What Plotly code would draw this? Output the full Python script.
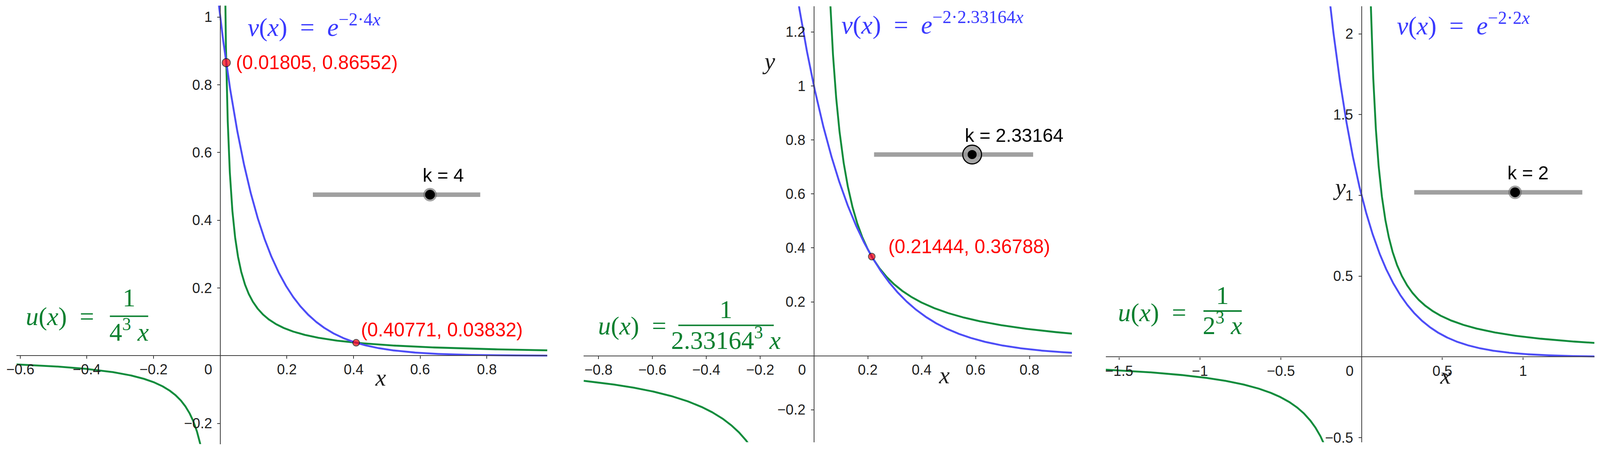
import numpy as np
import plotly.graph_objects as go

# ---------------- data ----------------
k_values = [4.0, 2.33164, 2.0]
k_texts = ["k = 4", "k = 2.33164", "k = 2"]
slider_min = -10.0
slider_max = 10.0

x_ticks_1 = [-0.6, -0.4, -0.2, 0.2, 0.4, 0.6, 0.8]
x_ticks_2 = [-0.8, -0.6, -0.4, -0.2, 0.2, 0.4, 0.6, 0.8]
x_ticks_3 = [-1.5, -1.0, -0.5, 0.5, 1.0]
y_ticks_1 = [-0.2, 0.2, 0.4, 0.6, 0.8, 1.0]
y_ticks_2 = [-0.2, 0.2, 0.4, 0.6, 0.8, 1.0, 1.2]
y_ticks_3 = [-0.5, 0.5, 1.0, 1.5, 2.0]

point_x_1 = [0.01805, 0.40771]
point_y_1 = [0.86552, 0.03832]
point_x_2 = [0.21444]
point_y_2 = [0.36788]
point_x_3 = []
point_y_3 = []

v_exponents = ["−2·4<i>x</i>", "−2·2.33164<i>x</i>", "−2·2<i>x</i>"]
u_denominators = ["4<sup>3</sup> <i>x</i>", "2.33164<sup>3</sup> <i>x</i>", "2<sup>3</sup> <i>x</i>"]

# ---------------- layout / style config ----------------
# the page is shown slightly magnified; sizes are given in screenshot pixels and converted
S = 1.04
OFF = 8
IMG_W, IMG_H = 4270, 1208
W = int(round(IMG_W / S - 2 * OFF))
H = int(round(IMG_H / S - 2 * OFF))


def px(v):
    return v / S


def fx(X):
    return (X / S - OFF) / W


def fy(Y):
    return 1 - (Y / S - OFF) / H


panels = [
    dict(px=(44, 1457), py=(15, 1182), xr=(-0.611, 0.981), yr=(-0.261, 1.034),
         xt=x_ticks_1, yt=y_ticks_1, px_pts=point_x_1, py_pts=point_y_1, pt_sizes=[22, 18],
         lab_shift=[(24, 0), (11, 34)],
         slider=dict(x0=0.278, x1=0.780, y=0.4756, selected=False),
         vpos=(0.080, 0.975), upos=(-0.585, 0.115), bar=(-0.331, -0.216, 0.1165),
         numy=0.171, deny=0.0755, xlab=(0.481, -0.064), ylab=None),
    dict(px=(1554, 2854), py=(17, 1177), xr=(-0.854, 0.957), yr=(-0.320, 1.295),
         xt=x_ticks_2, yt=y_ticks_2, px_pts=point_x_2, py_pts=point_y_2, pt_sizes=[18],
         lab_shift=[(42, 27)],
         slider=dict(x0=0.223, x1=0.813, y=0.746, selected=True),
         vpos=(0.099, 1.232), upos=(-0.804, 0.110), bar=(-0.503, -0.149, 0.113),
         numy=0.172, deny=0.065, xlab=(0.483, -0.072), ylab=(-0.167, 1.093)),
    dict(px=(2944, 4245), py=(17, 1177), xr=(-1.584, 1.442), yr=(-0.528, 2.170),
         xt=x_ticks_3, yt=y_ticks_3, px_pts=point_x_3, py_pts=point_y_3, pt_sizes=[],
         lab_shift=[],
         slider=dict(x0=0.326, x1=1.367, y=1.019, selected=False),
         vpos=(0.214, 2.060), upos=(-1.514, 0.274), bar=(-0.979, -0.742, 0.284),
         numy=0.381, deny=0.207, xlab=(0.519, -0.114), ylab=(-0.137, 1.053)),
]

GREEN_LINE = "#118C3C"
GREEN_TEXT = "#0B8030"
BLUE_LINE = "#4D4DF7"
BLUE_TEXT = "#3A3AFF"
AXIS_COL = "#3C3C3C"
TICK_TXT = "#1E1E1E"
SANS = "Liberation Sans, Arial, sans-serif"
SERIF = "Liberation Serif, Times New Roman, serif"
F_TICK = px(38)
F_RED = px(51)
F_K = px(50)
F_MATH = px(68)


def fmt(t):
    return f"{t:g}".replace("-", "\u2212")


fig = go.Figure()
annotations = []
shapes = []
layout_axes = {}

for i, (p, k) in enumerate(zip(panels, k_values)):
    n = "" if i == 0 else str(i + 1)
    xa, ya = "x" + n, "y" + n
    xd = (fx(p["px"][0]), fx(p["px"][1]))
    yd = (fy(p["py"][1]), fy(p["py"][0]))
    xmin, xmax = p["xr"]
    ymin, ymax = p["yr"]
    ypos0 = yd[0] + (0 - ymin) / (ymax - ymin) * (yd[1] - yd[0])
    xpos0 = xd[0] + (0 - xmin) / (xmax - xmin) * (xd[1] - xd[0])

    common = dict(showgrid=False, zeroline=False, showline=True, linecolor=AXIS_COL,
                  linewidth=px(2.2), ticks="outside", ticklen=px(7), tickwidth=px(2),
                  tickcolor=AXIS_COL, showticklabels=False, fixedrange=True)
    layout_axes["xaxis" + n] = dict(domain=xd, range=[xmin, xmax], anchor="free", position=ypos0,
                                    tickvals=p["xt"], **common)
    layout_axes["yaxis" + n] = dict(domain=yd, range=[ymin, ymax], anchor="free", position=xpos0,
                                    tickvals=p["yt"], **common)

    # tick labels placed next to the axes through the origin
    for t in p["xt"]:
        annotations.append(dict(x=t, y=0, xref=xa, yref=ya, showarrow=False, text=fmt(t),
                                xanchor="center", yanchor="middle", yshift=-px(37),
                                font=dict(family=SANS, size=F_TICK, color=TICK_TXT)))
    for t in p["yt"]:
        annotations.append(dict(x=0, y=t, xref=xa, yref=ya, showarrow=False, text=fmt(t),
                                xanchor="right", yanchor="middle", xshift=-px(20),
                                font=dict(family=SANS, size=F_TICK, color=TICK_TXT)))
    annotations.append(dict(x=0, y=0, xref=xa, yref=ya, showarrow=False, text="0",
                            xanchor="center", yanchor="middle", xshift=-px(32), yshift=-px(37),
                            font=dict(family=SANS, size=F_TICK, color=TICK_TXT)))

    # u(x) = 1/(k^3 x), both branches
    xp_start = 1.0 / (k ** 3 * ymax * 1.3)
    xpos = np.geomspace(xp_start, xmax, 700)
    xn_end = 1.0 / (k ** 3 * abs(ymin) * 1.3)
    xneg = -np.geomspace(abs(xmin), xn_end, 700)
    for xs in (xneg, xpos):
        fig.add_trace(go.Scatter(x=xs, y=1.0 / (k ** 3 * xs), mode="lines",
                                 line=dict(color=GREEN_LINE, width=px(5)), xaxis=xa, yaxis=ya,
                                 showlegend=False, hoverinfo="skip"))
    # v(x) = exp(-2 k x)
    xv = np.linspace(xmin, xmax, 1500)
    fig.add_trace(go.Scatter(x=xv, y=np.exp(-2 * k * xv), mode="lines",
                             line=dict(color=BLUE_LINE, width=px(5)), xaxis=xa, yaxis=ya,
                             showlegend=False, hoverinfo="skip"))

    # intersection points
    if p["px_pts"]:
        fig.add_trace(go.Scatter(x=p["px_pts"], y=p["py_pts"], mode="markers",
                                 marker=dict(color="#FF0000", size=[px(s) for s in p["pt_sizes"]],
                                             line=dict(color="black", width=px(2))),
                                 xaxis=xa, yaxis=ya, showlegend=False, hoverinfo="skip"))
        for xx, yy, (sx, sy) in zip(p["px_pts"], p["py_pts"], p["lab_shift"]):
            annotations.append(dict(x=xx, y=yy, xref=xa, yref=ya, showarrow=False,
                                    text=f"({xx:.5f}, {yy:.5f})", xanchor="left", yanchor="middle",
                                    xshift=px(sx), yshift=px(sy),
                                    font=dict(family=SANS, size=F_RED, color="#FF0000")))

    # slider
    s = p["slider"]
    shapes.append(dict(type="line", xref=xa, yref=ya, x0=s["x0"], x1=s["x1"], y0=s["y"], y1=s["y"],
                       line=dict(color="#A0A0A0", width=px(12)), layer="below"))
    frac = (k - slider_min) / (slider_max - slider_min)
    dot_x = s["x0"] + frac * (s["x1"] - s["x0"])
    if s["selected"]:
        halo = dict(size=px(50), color="rgba(150,150,150,0.85)", line=dict(color="black", width=px(3)))
        core = px(24)
    else:
        halo = dict(size=px(36), color="rgba(100,100,100,0.6)", line=dict(width=0))
        core = px(26)
    fig.add_trace(go.Scatter(x=[dot_x], y=[s["y"]], mode="markers", marker=halo,
                             xaxis=xa, yaxis=ya, showlegend=False, hoverinfo="skip"))
    fig.add_trace(go.Scatter(x=[dot_x], y=[s["y"]], mode="markers",
                             marker=dict(size=core, color="black"),
                             xaxis=xa, yaxis=ya, showlegend=False, hoverinfo="skip"))
    annotations.append(dict(x=dot_x, y=s["y"], xref=xa, yref=ya, showarrow=False,
                            text=k_texts[i], xanchor="left", yanchor="middle",
                            xshift=-px(22), yshift=px(52),
                            font=dict(family=SANS, size=F_K, color="black")))

    # axis titles
    annotations.append(dict(x=p["xlab"][0], y=p["xlab"][1], xref=xa, yref=ya, showarrow=False,
                            text="<i>x</i>", font=dict(family=SERIF, size=px(64), color=TICK_TXT)))
    if p["ylab"]:
        annotations.append(dict(x=p["ylab"][0], y=p["ylab"][1], xref=xa, yref=ya, showarrow=False,
                                text="<i>y</i>", font=dict(family=SERIF, size=px(64), color=TICK_TXT)))

    # v formula
    annotations.append(dict(x=p["vpos"][0], y=p["vpos"][1], xref=xa, yref=ya, showarrow=False,
                            xanchor="left", yanchor="middle",
                            text="<i>v</i>(<i>x</i>)&nbsp;&nbsp;=&nbsp;&nbsp;<i>e</i><sup>" + v_exponents[i] + "</sup>",
                            font=dict(family=SERIF, size=F_MATH, color=BLUE_TEXT)))
    # u formula
    annotations.append(dict(x=p["upos"][0], y=p["upos"][1], xref=xa, yref=ya, showarrow=False,
                            xanchor="left", yanchor="middle",
                            text="<i>u</i>(<i>x</i>)&nbsp;&nbsp;=",
                            font=dict(family=SERIF, size=F_MATH, color=GREEN_TEXT)))
    bx0, bx1, by = p["bar"]
    shapes.append(dict(type="line", xref=xa, yref=ya, x0=bx0, x1=bx1, y0=by, y1=by,
                       line=dict(color=GREEN_TEXT, width=px(4))))
    annotations.append(dict(x=(bx0 + bx1) / 2, y=p["numy"], xref=xa, yref=ya, showarrow=False,
                            xanchor="center", yanchor="middle", text="1",
                            font=dict(family=SERIF, size=F_MATH, color=GREEN_TEXT)))
    annotations.append(dict(x=(bx0 + bx1) / 2, y=p["deny"], xref=xa, yref=ya, showarrow=False,
                            xanchor="center", yanchor="middle", text=u_denominators[i],
                            font=dict(family=SERIF, size=F_MATH, color=GREEN_TEXT)))

fig.update_layout(width=W, height=H, margin=dict(l=0, r=0, t=0, b=0),
                  paper_bgcolor="white", plot_bgcolor="white", showlegend=False,
                  annotations=annotations, shapes=shapes, **layout_axes)
fig.write_html("out.html")
